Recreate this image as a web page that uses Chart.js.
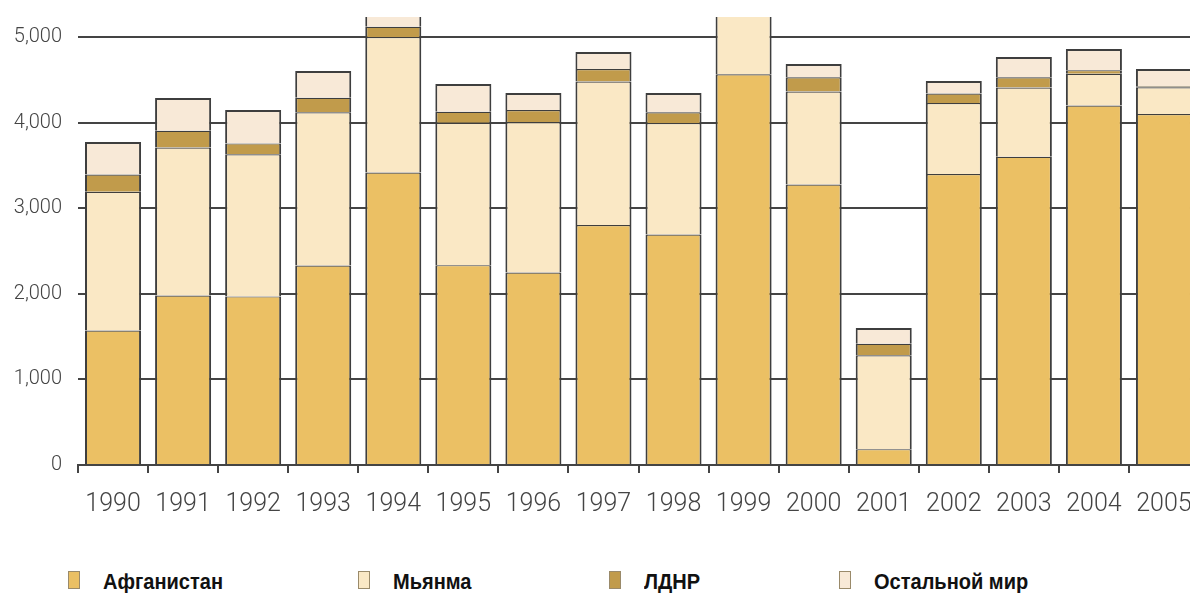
<!DOCTYPE html>
<html lang="ru">
<head>
  <meta charset="UTF-8">
  <title>Производство опия</title>
  <script src="https://cdn.jsdelivr.net/npm/chart.js"></script>
  <style>
    html, body { margin:0; padding:0; background:#fff; overflow:hidden; }
    #wrap { position:relative; width:1202px; height:530px; }
    .legend { position:absolute; top:567px; left:0; width:1190px; height:26px;
              font-family:"Liberation Sans","Arial",sans-serif;
              font-weight:bold; font-size:22px; color:#111; }
    .legend span.item { position:absolute; top:0; white-space:nowrap; }
    .legend i { position:absolute; top:4px; width:12px; height:18px;
                border:1px solid #9a8a6a; box-sizing:border-box; }
    .legend b { position:absolute; top:4px; line-height:22px; white-space:nowrap;
                transform:scaleX(0.91); transform-origin:left center; }
  </style>
</head>
<body>
  <div id="wrap"><canvas id="graf"></canvas></div>
  <div class="legend" id="leg"></div>

  <script>
    /* ---------- datos (toneladas) ---------- */
    const anios      = ['1990','1991','1992','1993','1994','1995','1996','1997',
                        '1998','1999','2000','2001','2002','2003','2004','2005'];
    const afganistan = [1570,1980,1970,2330,3416,2335,2248,2804,2693,4565,3276,185,3400,3600,4200,4100];
    const myanma     = [1621,1728,1660,1791,1583,1664,1760,1676,1303, 895,1087,1097, 828, 810, 370, 312];
    const ldnr       = [ 202, 196, 127, 169, 120, 128, 140, 147, 124, 124, 167, 134, 112, 120,  43,  14];
    const resto      = [ 380, 383, 390, 313, 501, 324, 198, 198, 226, 180, 155, 184, 146, 236, 247, 200];
    const yTicks     = [0,1000,2000,3000,4000,5000];

    const series = [
      { label:'Афганистан',     data:afganistan, color:'#ebc064', x:68  },
      { label:'Мьянма',         data:myanma,     color:'#fae8c5', x:358 },
      { label:'ЛДНР',           data:ldnr,       color:'#c19b4b', x:609 },
      { label:'Остальной мир',  data:resto,      color:'#f8e9d7', x:839 }
    ];

    const ink = '#444';

    new Chart(document.getElementById('graf'), {
      type:'bar',
      data:{
        labels:anios,
        datasets:series.map((s, i) => ({
          label:s.label,
          data:s.data,
          backgroundColor:s.color,
          borderColor:'#3e3e3e',
          borderWidth:{ left:2, right:2, top:(i === 3 ? 2 : 1.2), bottom:0 },
          borderSkipped:false,
          barPercentage:0.8,
          categoryPercentage:1
        }))
      },
      options:{
        responsive:true, maintainAspectRatio:false, animation:false,
        layout:{ padding:{ top:17, right:3, left:0, bottom:0 } },
        plugins:{ legend:{ display:false }, tooltip:{ enabled:false } },
        scales:{
          x:{
            stacked:true,
            grid:{ offset:true, drawOnChartArea:false, drawTicks:true, tickLength:8,
                   color:ink, lineWidth:2 },
            border:{ display:true, color:ink, width:2 },
            ticks:{ color:ink, padding:17, maxRotation:0, autoSkip:false,
                    font:{ family:'Roboto', size:25, weight:300 } },
            afterFit:s => { s.height = 65; s.paddingLeft = 0; s.paddingRight = 0; }
          },
          y:{
            stacked:true, min:0, max:5234,
            afterBuildTicks:s => { s.ticks = yTicks.map(v => ({ value:v })); },
            grid:{ color:ink, lineWidth:2, drawTicks:false },
            border:{ display:false },
            ticks:{ color:ink, padding:16,
                    font:{ family:'Roboto', size:20, weight:300 },
                    callback:v => v.toLocaleString('en-US') },
            afterFit:s => { s.width = 78; s.paddingTop = 0; s.paddingBottom = 0; }
          }
        }
      }
    });

    /* ---------- leyenda ---------- */
    const leg = document.getElementById('leg');
    series.forEach(s => {
      const it = document.createElement('span');
      it.className = 'item';
      it.style.left = s.x + 'px';
      it.innerHTML = `<i style="left:0;background:${s.color}"></i><b style="left:35px">${s.label}</b>`;
      leg.appendChild(it);
    });
  </script>
</body>
</html>
